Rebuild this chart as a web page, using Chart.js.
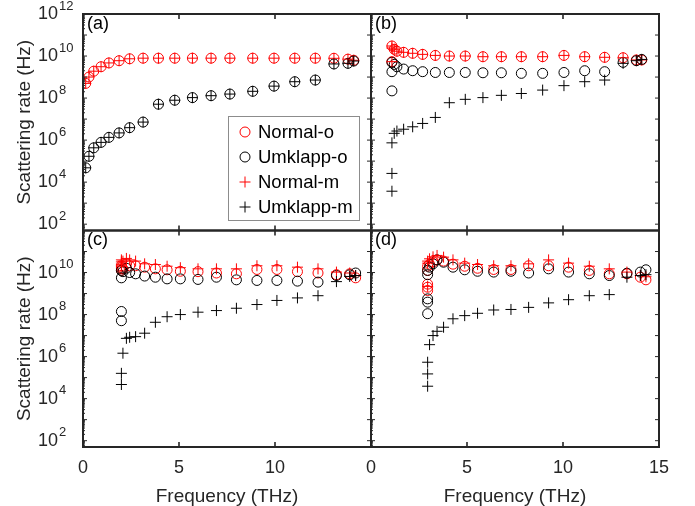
<!DOCTYPE html>
<html>
<head>
<meta charset="utf-8">
<script src="https://cdn.jsdelivr.net/npm/chart.js@4.4.1/dist/chart.umd.min.js"></script>
<style>
  html, body { margin: 0; padding: 0; background: #fff; }
</style>
</head>
<body>
<canvas id="rateChart" width="695" height="506"></canvas>
<script>
// tick labels
const xTickValues = [0, 5, 10, 15];
const xLabelsLeft = ["0", "5", "10", ""];
const xLabelsRight = ["0", "5", "10", "15"];
const yTickValues = [1e12, 1e10, 1e8, 1e6, 1e4, 1e2];
const yTickExps = ["12", "10", "8", "6", "4", "2"];

// (a)
const freqA = [0.14, 0.31, 0.56, 0.94, 1.35, 1.88, 2.43, 3.13, 3.93, 4.78, 5.7, 6.67, 7.65, 8.84, 9.95, 11.03, 12.1, 13.07, 13.8, 14.1];
const normalOA = [5.0e8, 1.0e9, 1.9e9, 3.1e9, 4.7e9, 6.0e9, 7.4e9, 7.9e9, 7.9e9, 7.9e9, 7.9e9, 7.9e9, 7.9e9, 7.9e9, 7.9e9, 7.9e9, 7.9e9, 7.8e9, 7.1e9, 6.3e9];
const umklappOA = [4.8e4, 1.7e5, 4.3e5, 7.8e5, 1.35e6, 2.2e6, 3.9e6, 7.2e6, 5.1e7, 7.9e7, 1.05e8, 1.3e8, 1.55e8, 2.1e8, 3.7e8, 6.0e8, 7.2e8, 4.2e9, 4.5e9, 5.8e9];
const normalMA = [5.0e8, 1.0e9, 1.9e9, 3.1e9, 4.7e9, 6.0e9, 7.4e9, 7.9e9, 7.9e9, 7.9e9, 7.9e9, 7.9e9, 7.9e9, 7.9e9, 7.9e9, 7.9e9, 7.9e9, 7.8e9, 7.1e9, 6.3e9];
const umklappMA = [4.8e4, 1.7e5, 4.3e5, 7.8e5, 1.35e6, 2.2e6, 3.9e6, 7.2e6, 5.1e7, 7.9e7, 1.05e8, 1.3e8, 1.55e8, 2.1e8, 3.7e8, 6.0e8, 7.2e8, 4.2e9, 4.5e9, 5.8e9];

// (b)
const freqB = [1.09, 1.09, 1.09, 1.21, 1.35, 1.7, 2.17, 2.69, 3.35, 4.08, 4.91, 5.83, 6.79, 7.83, 8.94, 10.05, 11.13, 12.17, 13.13, 13.82, 14.1];
const normalOB = [3.0e10, 5.4e9, null, 2.1e10, 1.7e10, 1.5e10, 1.35e10, 1.2e10, 1.07e10, 1.0e10, 1.0e10, 9.3e9, 9.3e9, 9.3e9, 9.3e9, 1.07e10, 9.3e9, 8.7e9, 8.3e9, 6.5e9, 6.5e9];
const umklappOB = [5.0e9, 1.8e9, 2.2e8, 4.0e9, 3.1e9, 2.4e9, 2.0e9, 1.8e9, 1.65e9, 1.65e9, 1.65e9, 1.6e9, 1.6e9, 1.5e9, 1.5e9, 1.65e9, 2.0e9, 1.8e9, 5.0e9, 6.0e9, 6.9e9];
const normalMB = [3.0e10, 5.4e9, 2.4e10, 2.1e10, 1.7e10, 1.5e10, 1.35e10, 1.2e10, 1.07e10, 1.0e10, 1.0e10, 9.3e9, 9.3e9, 9.3e9, 9.3e9, 1.07e10, 9.3e9, 8.7e9, 8.3e9, 6.5e9, 6.5e9];
const umklappMB = [3.7e3, 2.6e4, 7.4e5, 2.1e6, 2.7e6, 3.3e6, 4.3e6, 6.2e6, 1.2e7, 6.0e7, 8.7e7, 1.05e8, 1.35e8, 1.65e8, 2.4e8, 3.9e8, 6.0e8, 7.2e8, 4.5e9, 6.0e9, 6.9e9];

// (c)
const freqC = [2.0, 2.0, 2.0, 2.0, 2.08, 2.26, 2.43, 2.74, 3.21, 3.77, 4.38, 5.07, 5.99, 6.95, 7.99, 9.06, 10.1, 11.17, 12.24, 13.2, 13.89, 14.2];
const normalOC = [2.1e10, 1.5e10, 1.8e10, 1.26e10, 1.5e10, 2.6e10, 2.1e10, 2.1e10, 1.8e10, 1.5e10, 1.35e10, 1.15e10, 1.1e10, 9.5e9, 8.7e9, 1.4e10, 1.4e10, 1.1e10, 9.5e9, 7.9e9, 8.7e9, 5.6e9];
const umklappOC = [1.4e8, 5.1e7, 5.6e9, 1.26e10, 1.1e10, 1.6e10, 1.0e10, 8.7e9, 6.8e9, 6.0e9, 5.0e9, 5.0e9, 4.7e9, 6.0e9, 4.5e9, 4.2e9, 4.2e9, 3.9e9, 3.5e9, 7.2e9, 7.8e9, 9.5e9];
const normalMC = [3.2e10, 4.0e10, 2.5e10, 2.0e10, 3.5e10, 4.7e10, 4.0e10, 3.5e10, 2.6e10, 2.4e10, 2.0e10, 1.7e10, 1.5e10, 1.5e10, 1.5e10, 2.1e10, 2.1e10, 1.8e10, 1.5e10, 1.05e10, 9.5e9, 7.1e9];
const umklappMC = [4.7e4, 1.6e5, null, null, 1.45e6, 7.4e6, 8.3e6, 8.9e6, 1.3e7, 4.3e7, 7.9e7, 1.0e8, 1.3e8, 1.55e8, 2.0e8, 3.0e8, 4.7e8, 6.2e8, 7.9e8, 3.7e9, 6.5e9, 7.2e9];

// (d)
const freqD = [2.95, 2.95, 2.95, 2.95, 2.95, 3.05, 3.23, 3.44, 3.78, 4.27, 4.88, 5.55, 6.39, 7.29, 8.21, 9.25, 10.29, 11.37, 12.41, 13.33, 14.03, 14.32];
const normalOD = [2.8e9, 2.0e9, 1.4e9, 2.0e10, 1.26e10, 2.5e10, 3.2e10, 4.0e10, 3.5e10, 2.5e10, 2.0e10, 1.6e10, 1.4e10, 1.4e10, 2.1e10, 2.1e10, 1.8e10, 1.26e10, 8.7e9, 8.7e9, 6.0e9, 4.5e9];
const umklappOD = [1.1e8, 3.9e8, 5.6e8, 1.26e10, 7.9e9, 1.8e10, 2.6e10, 4.0e10, 3.1e10, 1.8e10, 1.35e10, 1.15e10, 1.05e10, 1.15e10, 9.5e9, 1.5e10, 1.05e10, 8.7e9, 7.2e9, 9.3e9, 1.05e10, 1.35e10];
const normalMD = [2.2e9, null, null, 2.8e10, 3.5e10, 4.5e10, 5.6e10, 6.5e10, 5.4e10, 4.0e10, 2.8e10, 2.4e10, 2.1e10, 2.1e10, 2.6e10, 4.0e10, 2.8e10, 2.0e10, 1.5e10, 1.05e10, 7.2e9, 6.3e9];
const umklappMD = [3.9e4, 1.5e5, 5.4e5, null, null, 3.7e6, 1.0e7, 1.6e7, 2.5e7, 6.3e7, 8.9e7, 1.15e8, 1.65e8, 1.75e8, 2.2e8, 3.6e8, 5.1e8, 7.9e8, 8.9e8, 6.0e9, 7.2e9, 7.9e9];

const FONT = "'Liberation Sans', Arial, sans-serif";
const axisColor = "#262626";

const series = [
  { label: "Normal-o", color: "#ff0000", style: "circle" },
  { label: "Umklapp-o", color: "#000000", style: "circle" },
  { label: "Normal-m", color: "#ff0000", style: "cross" },
  { label: "Umklapp-m", color: "#000000", style: "cross" },
];

const panels = [
  { name: "(a)", x: "xLeft", y: "yTop", freq: freqA, values: [normalOA, umklappOA, normalMA, umklappMA] },
  { name: "(b)", x: "xRight", y: "yTop", freq: freqB, values: [normalOB, umklappOB, normalMB, umklappMB] },
  { name: "(c)", x: "xLeft", y: "yBottom", freq: freqC, values: [normalOC, umklappOC, normalMC, umklappMC] },
  { name: "(d)", x: "xRight", y: "yBottom", freq: freqD, values: [normalOD, umklappOD, normalMD, umklappMD] },
];

const datasets = [];
panels.forEach(p => {
  series.forEach((s, k) => {
    datasets.push({
      label: s.label,
      xAxisID: p.x,
      yAxisID: p.y,
      data: p.freq.map((f, i) => ({ x: f, y: p.values[k][i] })).filter(d => d.y != null),
      pointStyle: s.style,
      pointRadius: s.style === "circle" ? 5 : 5.5,
      pointBorderWidth: 1,
      borderColor: s.color,
      backgroundColor: "rgba(0,0,0,0)",
      showLine: false,
      order: 4 - k,
    });
  });
});

function drawMarker(ctx, style, color, x, y) {
  ctx.strokeStyle = color;
  ctx.lineWidth = 1;
  ctx.beginPath();
  if (style === "circle") {
    ctx.arc(x, y, 5, 0, Math.PI * 2);
  } else {
    ctx.moveTo(x - 5.5, y); ctx.lineTo(x + 5.5, y);
    ctx.moveTo(x, y - 5.5); ctx.lineTo(x, y + 5.5);
  }
  ctx.stroke();
}

const panelFrames = {
  id: "panelFrames",
  afterDatasetsDraw(chart) {
    const ctx = chart.ctx;
    const sc = chart.scales;
    ctx.save();
    panels.forEach(p => {
      const xs = sc[p.x], ys = sc[p.y];
      const l = xs.left, r = xs.right, t = ys.top, b = ys.bottom;
      ctx.strokeStyle = axisColor;
      ctx.lineWidth = 1.6;
      ctx.beginPath();
      // x ticks on top and bottom
      xTickValues.forEach(v => {
        const px = xs.getPixelForValue(v);
        if (px <= l + 1 || px >= r - 1) return;
        ctx.moveTo(px, b); ctx.lineTo(px, b - 5);
        ctx.moveTo(px, t); ctx.lineTo(px, t + 5);
      });
      ctx.stroke();
      // y ticks: every decade, small log ticks on the left side
      ctx.lineWidth = 1;
      ctx.beginPath();
      for (let e = 1; e <= 12; e++) {
        for (let m = 1; m <= 9; m++) {
          const v = m * Math.pow(10, e);
          if (v < ys.min || v > ys.max) continue;
          const py = ys.getPixelForValue(v);
          if (m === 1) {
            ctx.moveTo(l, py); ctx.lineTo(l + 4, py);
            ctx.moveTo(r, py); ctx.lineTo(r - 4, py);
          } else {
            ctx.moveTo(l, py); ctx.lineTo(l + 2, py);
          }
        }
      }
      ctx.stroke();
      ctx.lineWidth = 2;
      ctx.strokeRect(l, t, r - l, b - t);
      // panel label
      ctx.fillStyle = "#000";
      ctx.font = "18px " + FONT;
      ctx.textAlign = "left";
      ctx.textBaseline = "middle";
      ctx.fillText(p.name, l + 4, t + 10);
    });

    // y tick labels with exponents
    ["yTop", "yBottom"].forEach(id => {
      const ys = sc[id];
      yTickValues.forEach((v, i) => {
        if (id === "yBottom" && i === 0) return;
        const py = ys.getPixelForValue(v);
        ctx.fillStyle = axisColor;
        ctx.textBaseline = "middle";
        ctx.textAlign = "right";
        ctx.font = "18px " + FONT;
        ctx.fillText("10", 58, py);
        ctx.textAlign = "left";
        ctx.font = "13px " + FONT;
        ctx.fillText(yTickExps[i], 59, py - 8);
      });
    });

    // legend inside panel (a)
    const lx = 228.5, ly = 116.5, lw = 131, lh = 104;
    ctx.fillStyle = "#fff";
    ctx.fillRect(lx, ly, lw, lh);
    ctx.strokeStyle = "#8c8c8c";
    ctx.lineWidth = 1;
    ctx.strokeRect(lx, ly, lw, lh);
    series.forEach((s, k) => {
      const ry = 132 + k * 25;
      drawMarker(ctx, s.style, s.color, 245, ry);
      ctx.fillStyle = "#000";
      ctx.font = "18.5px " + FONT;
      ctx.textAlign = "left";
      ctx.textBaseline = "middle";
      ctx.fillText(s.label, 258, ry + 1);
    });
    ctx.restore();
  },
};

function xScale(weight, labels) {
  return {
    type: "linear",
    position: "bottom",
    stack: "cols",
    stackWeight: 1,
    weight: weight,
    min: 0,
    max: 15,
    afterBuildTicks: s => { s.ticks = xTickValues.map(v => ({ value: v })); },
    afterFit: s => { s.height = 59; },
    ticks: {
      autoSkip: false,
      maxRotation: 0,
      padding: 10,
      color: axisColor,
      font: { family: FONT, size: 18 },
      callback: (v, i) => labels[i],
    },
    grid: { display: false, drawTicks: false },
    border: { display: false },
    title: {
      display: true,
      text: "Frequency (THz)",
      color: axisColor,
      font: { family: FONT, size: 19, lineHeight: 1 },
      padding: { top: 4.5, bottom: 0 },
    },
  };
}

function yScale(weight) {
  return {
    type: "logarithmic",
    position: "left",
    stack: "rows",
    stackWeight: 1,
    weight: weight,
    min: 50,
    max: 1e12,
    afterFit: s => { s.width = 83; },
    ticks: { display: false },
    grid: { display: false, drawTicks: false },
    border: { display: false },
    title: {
      display: true,
      text: "Scattering rate (Hz)",
      color: axisColor,
      font: { family: FONT, size: 19, lineHeight: 1 },
      padding: { top: 15.5, bottom: 0 },
    },
  };
}

const ctx = document.getElementById("rateChart").getContext("2d");
const rateChart = new Chart(ctx, {
  type: "scatter",
  data: { datasets: datasets },
  options: {
    responsive: false,
    animation: false,
    devicePixelRatio: 1,
    layout: { padding: { left: 0, top: 14, right: 36, bottom: 0 } },
    plugins: { legend: { display: false }, tooltip: { enabled: false } },
    scales: {
      xLeft: xScale(0, xLabelsLeft),
      xRight: xScale(1, xLabelsRight),
      yTop: yScale(1),
      yBottom: yScale(0),
    },
  },
  plugins: [panelFrames],
});
</script>
</body>
</html>
